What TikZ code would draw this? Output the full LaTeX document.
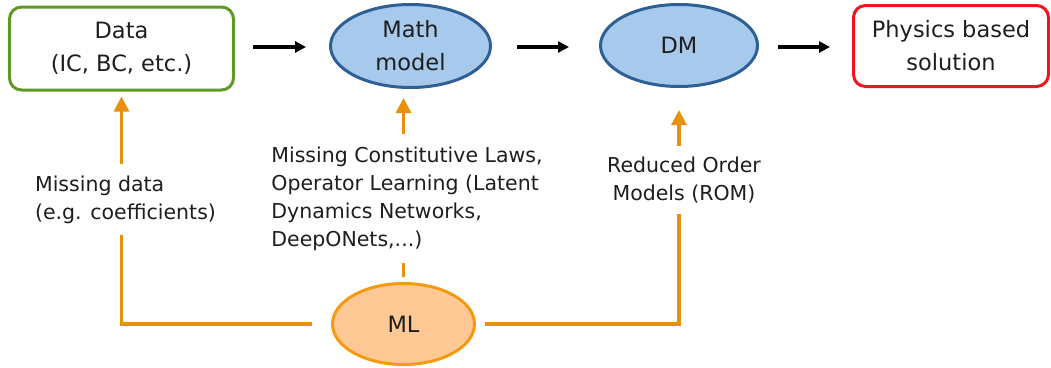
\documentclass[tikz,border=0pt]{standalone}
\usepackage{fontspec}
\setmainfont{DejaVu Sans}
\usetikzlibrary{shapes.geometric,arrows.meta}
\definecolor{boxgreen}{HTML}{5E9A24}
\definecolor{boxred}{HTML}{F0141C}
\definecolor{ellfill}{HTML}{A7C9EB}
\definecolor{ellline}{HTML}{2E5F95}
\definecolor{mlfill}{HTML}{FDC894}
\definecolor{mlline}{HTML}{F39A12}
\definecolor{orangeline}{HTML}{E8910E}
\definecolor{txt}{HTML}{1E1E1E}
\tikzset{
  mainfont/.style={font=\fontsize{22.5}{33}\selectfont, text=txt, align=center},
  lblfont/.style={font=\fontsize{20.5}{28}\selectfont, text=txt, align=left},
  rbox/.style={mainfont, draw, line width=3pt, rounded corners=12pt, inner sep=0pt},
  ell/.style={mainfont, ellipse, draw=ellline, fill=ellfill, line width=3pt, inner sep=0pt},
  mlell/.style={mainfont, ellipse, draw=mlline, fill=mlfill, line width=3pt, inner sep=0pt},
  flowarrow/.style={line width=3.5pt, -{Triangle[length=11pt,width=11pt]}},
  mlline/.style={line width=3.3pt, draw=orangeline},
  mlarrow/.style={mlline, -{Triangle[length=15pt,width=15pt]}, fill=none},
  lblnode/.style={lblfont, fill=white, inner xsep=0pt},
}
\begin{document}
\begin{tikzpicture}[x=1pt,y=-1pt]
\useasboundingbox (0,0) rectangle (1051,367);
% main row
\node[rbox, draw=boxgreen, minimum width=224pt, minimum height=83pt] (data) at (121.5,48.5) {Data\\(IC, BC, etc.)};
\node[ell, minimum width=160pt, minimum height=83pt] (math) at (410.5,46) {Math\\model};
\node[ell, minimum width=157pt, minimum height=82pt] (dm) at (679,45.5) {DM};
\node[rbox, draw=boxred, minimum width=195pt, minimum height=81pt] (phys) at (951,46) {Physics based\\solution};
\node[mlell, minimum width=142pt, minimum height=81pt] (ml) at (403.5,324) {ML};
% black flow arrows
\draw[flowarrow, shorten <=18pt, shorten >=23pt] (data.east |- 0,47) -- (math.west |- 0,47);
\draw[flowarrow, shorten <=25pt, shorten >=30pt] (math.east |- 0,47) -- (dm.west |- 0,47);
\draw[flowarrow, shorten <=19pt, shorten >=22pt] (dm.east |- 0,47) -- (phys.west |- 0,47);
% orange connectors from ML
\draw[mlarrow, shorten <=19pt, shorten >=5pt] (ml.west) -- (data.south |- ml.west) -- (data.south);
\draw[mlarrow, shorten <=5pt, shorten >=9pt] (ml.north) -- (ml.north |- math.south);
\draw[mlarrow, shorten <=9pt, shorten >=22pt] (ml.east) -- (dm.south |- ml.east) -- (dm.south);
% labels on the connectors
\node[lblnode, inner ysep=12pt] (lbldata) at (125.5,199.5) {Missing data\\(e.g. coefficients)};
\node[lblnode, inner ysep=13pt] (lblmath) at (407,198.5) {Missing Constitutive Laws,\\Operator Learning (Latent\\Dynamics Networks,\\DeepONets,...)};
\node[lblnode, align=center, inner ysep=11pt] (lbldm) at (684,180) {Reduced Order\\Models (ROM)};
\end{tikzpicture}
\end{document}
